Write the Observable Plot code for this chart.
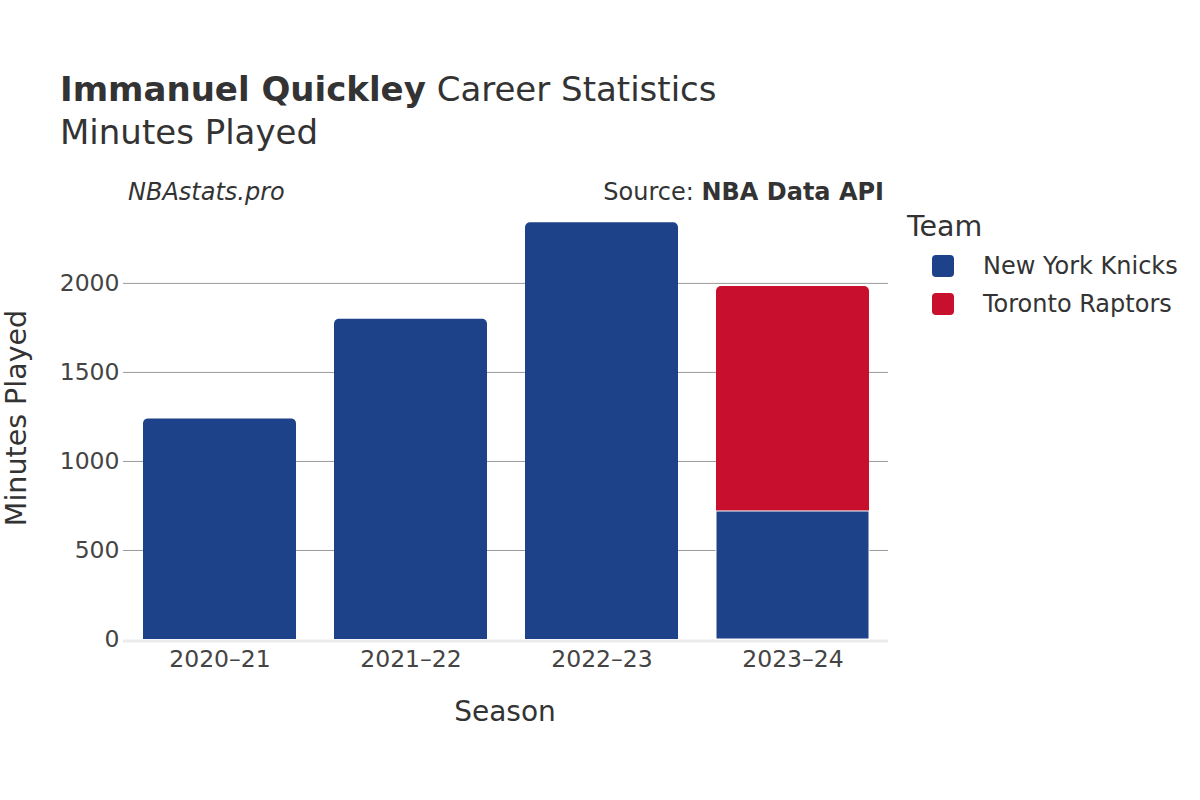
<!DOCTYPE html>
<html>
<head>
<meta charset="utf-8">
<script src="https://cdn.jsdelivr.net/npm/d3@7"></script>
<script src="https://cdn.jsdelivr.net/npm/@observablehq/plot@0.6"></script>
<style>
  html, body { margin: 0; padding: 0; background: #fff; }
  #wrap { position: relative; width: 1200px; height: 800px; font-family: "DejaVu Sans", sans-serif; color: #333; overflow: hidden; }
  #wrap svg { position: absolute; left: 0; top: 0; }
  .t { position: absolute; white-space: nowrap; line-height: 1; }
  .sw { position: absolute; width: 22px; height: 22px; border-radius: 4px; }
</style>
</head>
<body>
<div id="wrap">
  <div class="t" style="left:60px; top:72px; font-size:34px;"><b>Immanuel Quickley</b> Career Statistics</div>
  <div class="t" style="left:60px; top:115px; font-size:34px;">Minutes Played</div>
  <div class="t" style="left:128px; top:180px; font-size:24px; font-style:italic;">NBAstats.pro</div>
  <div class="t" style="right:316px; top:180px; font-size:24px;">Source: <b>NBA Data API</b></div>
  <div id="legend"></div>
  <div class="t" style="left:505px; top:712px; font-size:28px; transform:translate(-50%,-50%);">Season</div>
  <div class="t" style="left:17px; top:418px; font-size:28.5px; transform:translate(-50%,-50%) rotate(-90deg);">Minutes Played</div>
</div>
<script>
const seasons = ["2020–21", "2021–22", "2022–23", "2023–24"];
const teams = ["New York Knicks", "Toronto Raptors"];
const teamColors = ["#1D428A", "#C8102E"];
const knicksMinutes = [1239, 1798, 2341, 719];
const raptorsMinutes = [0, 0, 0, 1263];
const yTicks = [0, 500, 1000, 1500, 2000];

const seriesByTeam = [knicksMinutes, raptorsMinutes];
const rows = [];
seasons.forEach((season, i) => {
  let acc = 0;
  const segs = [];
  teams.forEach((team, j) => {
    const v = seriesByTeam[j][i];
    if (v > 0) {
      segs.push({season, team, minutes: v, y1: acc, y2: acc + v, mid: acc + v / 2});
      acc += v;
    }
  });
  segs.forEach((s, k) => { s.top = k === segs.length - 1; rows.push(s); });
});
const topRows = rows.filter(d => d.top);
const lowerRows = rows.filter(d => !d.top);

const chart = Plot.plot({
  width: 1200,
  height: 800,
  marginLeft: 123,
  marginRight: 312,
  marginTop: 201,
  marginBottom: 161,
  style: {fontFamily: "DejaVu Sans, sans-serif", fontSize: "23.5px", color: "#444", background: "transparent", overflow: "visible"},
  x: {domain: seasons, paddingInner: 0.2, paddingOuter: 0.1, label: null, tickSize: 0, tickPadding: 11},
  y: {domain: [0, 2460], ticks: yTicks, label: null, tickSize: 0, tickPadding: 4, tickFormat: d => String(d)},
  color: {domain: teams, range: teamColors},
  marks: [
    Plot.ruleY(yTicks.filter(d => d > 0), {stroke: "#9a9a9a", strokeWidth: 1}),
    Plot.ruleY([0], {stroke: "#ebebeb", strokeWidth: 3, dy: 1.5}),
    Plot.barY(topRows, {x: "season", y1: "y1", y2: "y2", fill: "team", rx: 5}),
    Plot.barY(topRows, {x: "season", y1: "y1", y2: "mid", fill: "team"}),
    Plot.barY(lowerRows, {x: "season", y1: "y1", y2: "y2", fill: "team", stroke: "white", strokeWidth: 1})
  ]
});
document.getElementById("wrap").appendChild(chart);

const legend = document.getElementById("legend");
let html = '<div class="t" style="left:907px; top:213px; font-size:28.5px;">Team</div>';
teams.forEach((team, j) => {
  const cy = 266 + j * 38;
  html += `<div class="sw" style="left:932px; top:${cy - 11}px; background:${teamColors[j]};"></div>`;
  html += `<div class="t" style="left:983px; top:${cy + 8.7 - 20.3}px; font-size:24px;">${team}</div>`;
});
legend.innerHTML = html;
</script>
</body>
</html>
